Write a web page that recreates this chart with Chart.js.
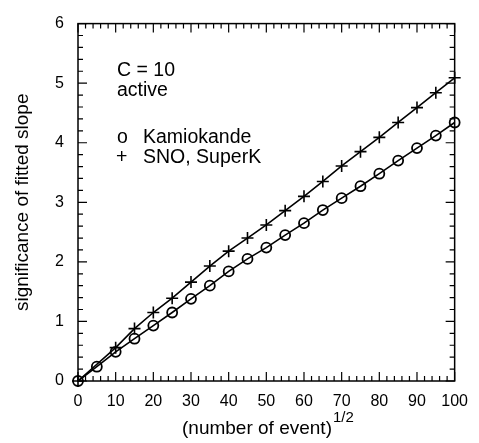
<!DOCTYPE html>
<html>
<head>
<meta charset="utf-8">
<script src="https://cdn.jsdelivr.net/npm/chart.js@4"></script>
<style>
    html, body { margin: 0; padding: 0; background: #fff; }
    #wrap { width: 479px; height: 443px; }
</style>
</head>
<body>
<div id="wrap"><canvas id="slopeChart" width="479" height="443"></canvas></div>
<script>
// dados
const kamioEvents = [0, 5, 10, 15, 20, 25, 30, 35, 40, 45, 50, 55, 60, 65, 70, 75, 80, 85, 90, 95, 100];
const kamioSig = [0, 0.24, 0.49, 0.71, 0.93, 1.15, 1.38, 1.60, 1.84, 2.05, 2.24, 2.45, 2.65, 2.87, 3.07, 3.27, 3.48, 3.70, 3.91, 4.12, 4.34];
const snoEvents = [0, 10, 15, 20, 25, 30, 35, 40, 45, 50, 55, 60, 65, 70, 75, 80, 85, 90, 95, 100];
const snoSig = [0, 0.56, 0.88, 1.15, 1.39, 1.66, 1.93, 2.18, 2.40, 2.62, 2.86, 3.10, 3.35, 3.61, 3.85, 4.09, 4.34, 4.59, 4.84, 5.09];
// eixos
const xTicks = [0, 10, 20, 30, 40, 50, 60, 70, 80, 90, 100];
const yTicks = [0, 1, 2, 3, 4, 5, 6];
const notes = ['C = 10', 'active'];
const seriesNames = ['Kamiokande', 'SNO, SuperK'];

const FONT = '"Liberation Sans", Arial, Helvetica, sans-serif';

function pts(xs, ys) {
    return xs.map((x, i) => ({ x: x, y: ys[i] }));
}

// moldura, marcas internas, títulos e anotações
const framePlugin = {
    id: 'frame',
    afterDraw(chart) {
        const ctx = chart.ctx;
        const a = chart.chartArea;
        const xs = chart.scales.x;
        const ys = chart.scales.y;
        ctx.save();
        ctx.strokeStyle = '#000';
        ctx.lineWidth = 1.5;
        ctx.strokeRect(a.left, a.top, a.right - a.left, a.bottom - a.top);

        ctx.lineWidth = 1.2;
        ctx.beginPath();
        for (let v = 0; v <= 100; v += 2) {
            const px = xs.getPixelForValue(v);
            const len = v % 10 === 0 ? 9 : 5;
            ctx.moveTo(px, a.bottom); ctx.lineTo(px, a.bottom - len);
            ctx.moveTo(px, a.top); ctx.lineTo(px, a.top + len);
        }
        for (let k = 0; k <= 30; k++) {
            const v = k * 0.2;
            const py = ys.getPixelForValue(v);
            const len = k % 5 === 0 ? 9 : 5;
            ctx.moveTo(a.left, py); ctx.lineTo(a.left + len, py);
            ctx.moveTo(a.right, py); ctx.lineTo(a.right - len, py);
        }
        ctx.stroke();

        ctx.fillStyle = '#000';
        // título do eixo x com expoente
        ctx.textBaseline = 'alphabetic';
        ctx.textAlign = 'left';
        ctx.font = '19px ' + FONT;
        const main = '(number of event)';
        ctx.fillText(main, 182, 434);
        const w = ctx.measureText(main).width;
        ctx.font = '15px ' + FONT;
        ctx.fillText('1/2', 182 + w + 1, 422);

        // título do eixo y
        ctx.save();
        ctx.translate(28, (a.top + a.bottom) / 2);
        ctx.rotate(-Math.PI / 2);
        ctx.textAlign = 'center';
        ctx.font = '19px ' + FONT;
        ctx.fillText('significance of fitted slope', 0, 0);
        ctx.restore();

        // anotações
        ctx.font = '19.5px ' + FONT;
        ctx.textAlign = 'left';
        ctx.fillText(notes[0], 117, 76);
        ctx.fillText(notes[1], 117, 96);
        ctx.fillText('o', 117, 143);
        ctx.fillText(seriesNames[0], 143, 143);
        ctx.fillText('+', 116, 163);
        ctx.fillText(seriesNames[1], 143, 163);
        ctx.restore();
    }
};

new Chart(document.getElementById('slopeChart'), {
    type: 'scatter',
    data: {
        datasets: [{
            label: seriesNames[0],
            data: pts(kamioEvents, kamioSig),
            showLine: true,
            tension: 0,
            pointStyle: 'circle',
            pointRadius: 5,
            borderColor: '#000',
            backgroundColor: 'rgba(0,0,0,0)',
            borderWidth: 1.6,
            pointBorderWidth: 1.8,
            clip: false
        }, {
            label: seriesNames[1],
            data: pts(snoEvents, snoSig),
            showLine: true,
            tension: 0,
            pointStyle: 'cross',
            pointRadius: 6,
            borderColor: '#000',
            borderWidth: 1.6,
            pointBorderWidth: 1.6,
            clip: false
        }]
    },
    options: {
        responsive: false,
        animation: false,
        events: [],
        layout: { padding: { top: 20, right: 17, left: 0, bottom: 0 } },
        plugins: {
            legend: { display: false },
            tooltip: { enabled: false }
        },
        scales: {
            x: {
                type: 'linear',
                min: 0,
                max: 100,
                afterBuildTicks: s => { s.ticks = xTicks.map(v => ({ value: v })); },
                ticks: { color: '#000', font: { family: FONT, size: 16 }, padding: 11, maxRotation: 0 },
                grid: { display: false, drawTicks: false },
                border: { display: false },
                afterFit: s => { s.height = 62; }
            },
            y: {
                type: 'linear',
                min: 0,
                max: 6,
                afterBuildTicks: s => { s.ticks = yTicks.map(v => ({ value: v })); },
                ticks: { color: '#000', font: { family: FONT, size: 16 }, padding: 14 },
                grid: { display: false, drawTicks: false },
                border: { display: false },
                afterFit: s => { s.width = 78; }
            }
        }
    },
    plugins: [framePlugin]
});
</script>
</body>
</html>
